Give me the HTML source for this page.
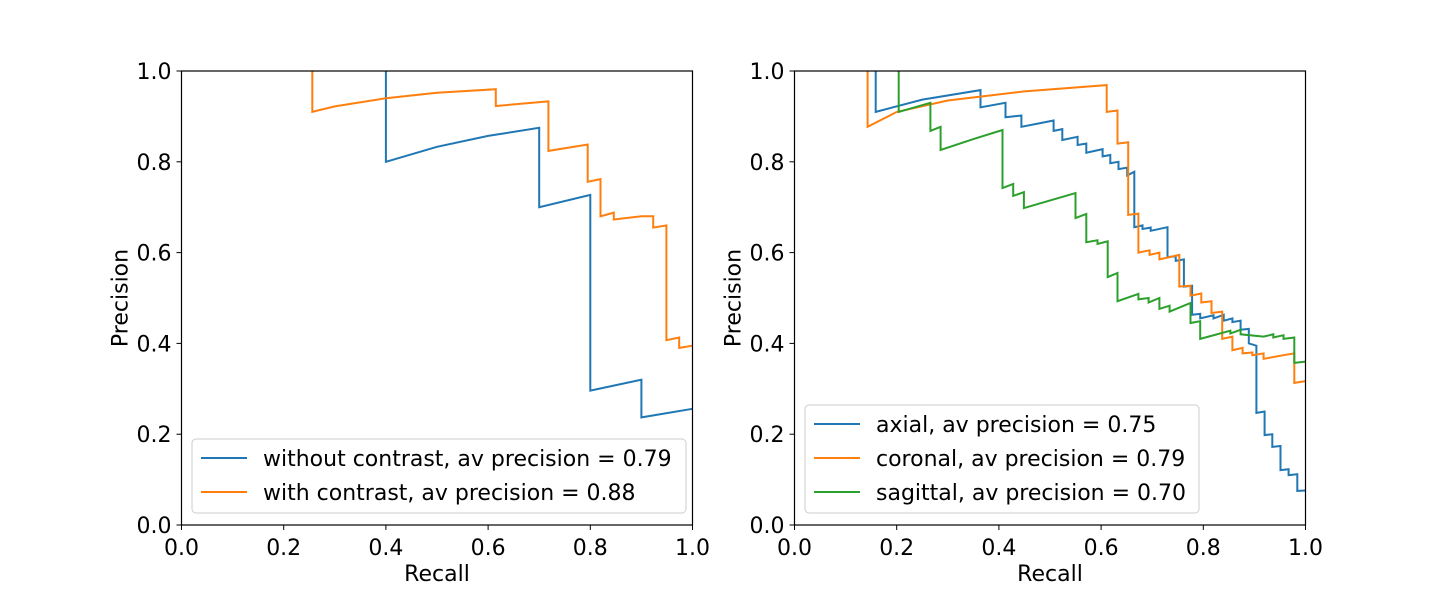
<!DOCTYPE html>
<html><head><meta charset="utf-8"><style>
html,body{margin:0;padding:0;background:#fff;}
svg{display:block;font-family:"DejaVu Sans","Liberation Sans",sans-serif;}
</style></head><body>
<svg id="fig" width="1450" height="590" viewBox="0 0 1450 590" xmlns="http://www.w3.org/2000/svg"></svg>
<script>
// ---- data ----
const xTicks = [0.0, 0.2, 0.4, 0.6, 0.8, 1.0];
const yTicks = [0.0, 0.2, 0.4, 0.6, 0.8, 1.0];
const leftLabels = ["without contrast, av precision = 0.79", "with contrast, av precision = 0.88"];
const rightLabels = ["axial, av precision = 0.75", "coronal, av precision = 0.79", "sagittal, av precision = 0.70"];
const leftBlueR = [0.4,0.4,0.5,0.6,0.7,0.7,0.8,0.8,0.9,0.9,1.0];
const leftBlueP = [1.0,0.80,0.833,0.857,0.875,0.70,0.727,0.296,0.32,0.237,0.256];
const leftOrangeR = [0.256,0.256,0.3,0.4,0.5,0.615,0.615,0.718,0.718,0.795,0.795,0.82,0.82,0.846,0.846,0.900,0.923,0.923,0.949,0.949,0.974,0.974,1.0];
const leftOrangeP = [1.0,0.91,0.922,0.94,0.952,0.96,0.923,0.933,0.824,0.838,0.756,0.762,0.68,0.688,0.673,0.68,0.68,0.655,0.66,0.407,0.413,0.39,0.395];
const axialR = [0.159,0.159,0.25,0.364,0.364,0.413,0.413,0.444,0.444,0.507,0.507,0.524,0.524,0.554,0.554,0.571,0.571,0.603,0.603,0.618,0.618,0.634,0.634,0.651,0.651,0.665,0.665,0.681,0.681,0.697,0.697,0.73,0.73,0.746,0.746,0.762,0.762,0.778,0.778,0.794,0.794,0.82,0.82,0.84,0.84,0.857,0.857,0.873,0.873,0.889,0.889,0.904,0.904,0.92,0.92,0.935,0.935,0.951,0.951,0.967,0.967,0.984,0.984,1.0];
const axialP = [1.0,0.91,0.937,0.958,0.92,0.93,0.898,0.902,0.877,0.891,0.868,0.872,0.848,0.855,0.837,0.84,0.82,0.828,0.812,0.815,0.797,0.80,0.784,0.787,0.77,0.778,0.656,0.66,0.652,0.655,0.648,0.656,0.59,0.592,0.582,0.585,0.525,0.527,0.463,0.465,0.455,0.462,0.455,0.463,0.45,0.455,0.447,0.45,0.43,0.432,0.40,0.395,0.247,0.25,0.198,0.2,0.172,0.174,0.121,0.123,0.11,0.112,0.075,0.076];
const coronalR = [0.143,0.143,0.2,0.3,0.45,0.611,0.611,0.632,0.632,0.653,0.653,0.673,0.673,0.695,0.695,0.714,0.714,0.753,0.753,0.775,0.775,0.796,0.796,0.816,0.816,0.837,0.837,0.857,0.857,0.877,0.877,0.896,0.896,0.918,0.918,0.961,0.978,0.978,1.0];
const coronalP = [1.0,0.877,0.91,0.935,0.955,0.969,0.91,0.913,0.84,0.843,0.683,0.686,0.60,0.605,0.595,0.60,0.585,0.595,0.525,0.527,0.505,0.51,0.49,0.493,0.467,0.47,0.41,0.415,0.385,0.39,0.378,0.38,0.374,0.378,0.366,0.375,0.378,0.313,0.317];
const sagittalR = [0.204,0.204,0.266,0.266,0.286,0.286,0.35,0.407,0.407,0.428,0.428,0.449,0.449,0.55,0.55,0.571,0.571,0.593,0.593,0.613,0.613,0.632,0.632,0.673,0.673,0.693,0.693,0.714,0.714,0.734,0.734,0.775,0.775,0.794,0.794,0.853,0.853,0.873,0.873,0.918,0.937,0.937,0.957,0.957,0.978,0.978,1.0];
const sagittalP = [1.0,0.91,0.93,0.868,0.877,0.826,0.85,0.87,0.742,0.751,0.725,0.733,0.698,0.731,0.676,0.685,0.623,0.627,0.619,0.625,0.546,0.555,0.493,0.509,0.497,0.50,0.49,0.50,0.476,0.483,0.47,0.489,0.445,0.449,0.41,0.428,0.422,0.43,0.42,0.415,0.42,0.413,0.418,0.41,0.413,0.357,0.36];

const NS = "http://www.w3.org/2000/svg";
const svg = document.getElementById('fig');
function mk(tag, attrs, parent){ const e=document.createElementNS(NS,tag); for(const k in attrs) e.setAttribute(k,attrs[k]); (parent||svg).appendChild(e); return e; }
const H = 454, W = 511, TOP = 71, FS = 22;
function sx(x0,v){ return x0 + v*W; }
function sy(v){ return TOP + H - v*H; }

function axes(x0, name, series, labels, legendBox){
  const g = mk('g',{});
  
  
  series.forEach((s,i)=>{
    const pts = s.r.map((r,j)=> sx(x0,r).toFixed(1)+','+sy(s.p[j]).toFixed(1)).join(' ');
    const pl = mk('polyline',{points:pts,fill:'none',stroke:s.c,'stroke-width':2,'stroke-linejoin':'miter'},g);
    
    
  });
  const fr = mk('rect',{x:x0,y:TOP,width:W,height:H,fill:'none',stroke:'#000','stroke-width':1.2},g);
  
  
  xTicks.forEach(t=>{
    const x = sx(x0,t);
    mk('line',{x1:x,x2:x,y1:TOP+H,y2:TOP+H+5,stroke:'#000','stroke-width':1},g);
    const tx = mk('text',{x:x,y:TOP+H+30,'text-anchor':'middle','font-size':FS},g);
    tx.textContent = t.toFixed(1);
    
    
  });
  yTicks.forEach(t=>{
    const y = sy(t);
    mk('line',{x1:x0-5,x2:x0,y1:y,y2:y,stroke:'#000','stroke-width':1},g);
    const tx = mk('text',{x:x0-10,y:y+8,'text-anchor':'end','font-size':FS},g);
    tx.textContent = t.toFixed(1);
    
    
  });
  const xl = mk('text',{x:x0+W/2,y:581,'text-anchor':'middle','font-size':FS},g);
  xl.textContent = 'Recall';
  
  
  const yl = mk('text',{x:0,y:0,'text-anchor':'middle','font-size':FS,transform:`translate(${x0-54},${TOP+H/2}) rotate(-90)`},g);
  yl.textContent = 'Precision';
  
  
  const lg = mk('g',{},g);
  
  
  mk('rect',{x:legendBox[0],y:legendBox[1],width:legendBox[2],height:legendBox[3],rx:4,fill:'#fff','fill-opacity':0.8,stroke:'#ccc','stroke-width':1},lg);
  labels.forEach((l,i)=>{
    const y = legendBox[1]+19+i*34;
    const ln = mk('line',{x1:legendBox[0]+9,x2:legendBox[0]+55,y1:y,y2:y,stroke:series[i].c,'stroke-width':2},lg);
    
    
    const tx = mk('text',{x:legendBox[0]+71,y:y+8,'font-size':FS},lg);
    tx.textContent = l;
    
    
  });
}
axes(181.5,'left-chart',[
  {r:leftBlueR,p:leftBlueP,c:'#1f77b4',n:'without-contrast-line'},
  {r:leftOrangeR,p:leftOrangeP,c:'#ff7f0e',n:'with-contrast-line'}
], leftLabels, [192,439,494,74]);
axes(794.5,'right-chart',[
  {r:axialR,p:axialP,c:'#1f77b4',n:'axial-line'},
  {r:coronalR,p:coronalP,c:'#ff7f0e',n:'coronal-line'},
  {r:sagittalR,p:sagittalP,c:'#2ca02c',n:'sagittal-line'}
], rightLabels, [805,405,394,108]);
</script>
</body></html>
